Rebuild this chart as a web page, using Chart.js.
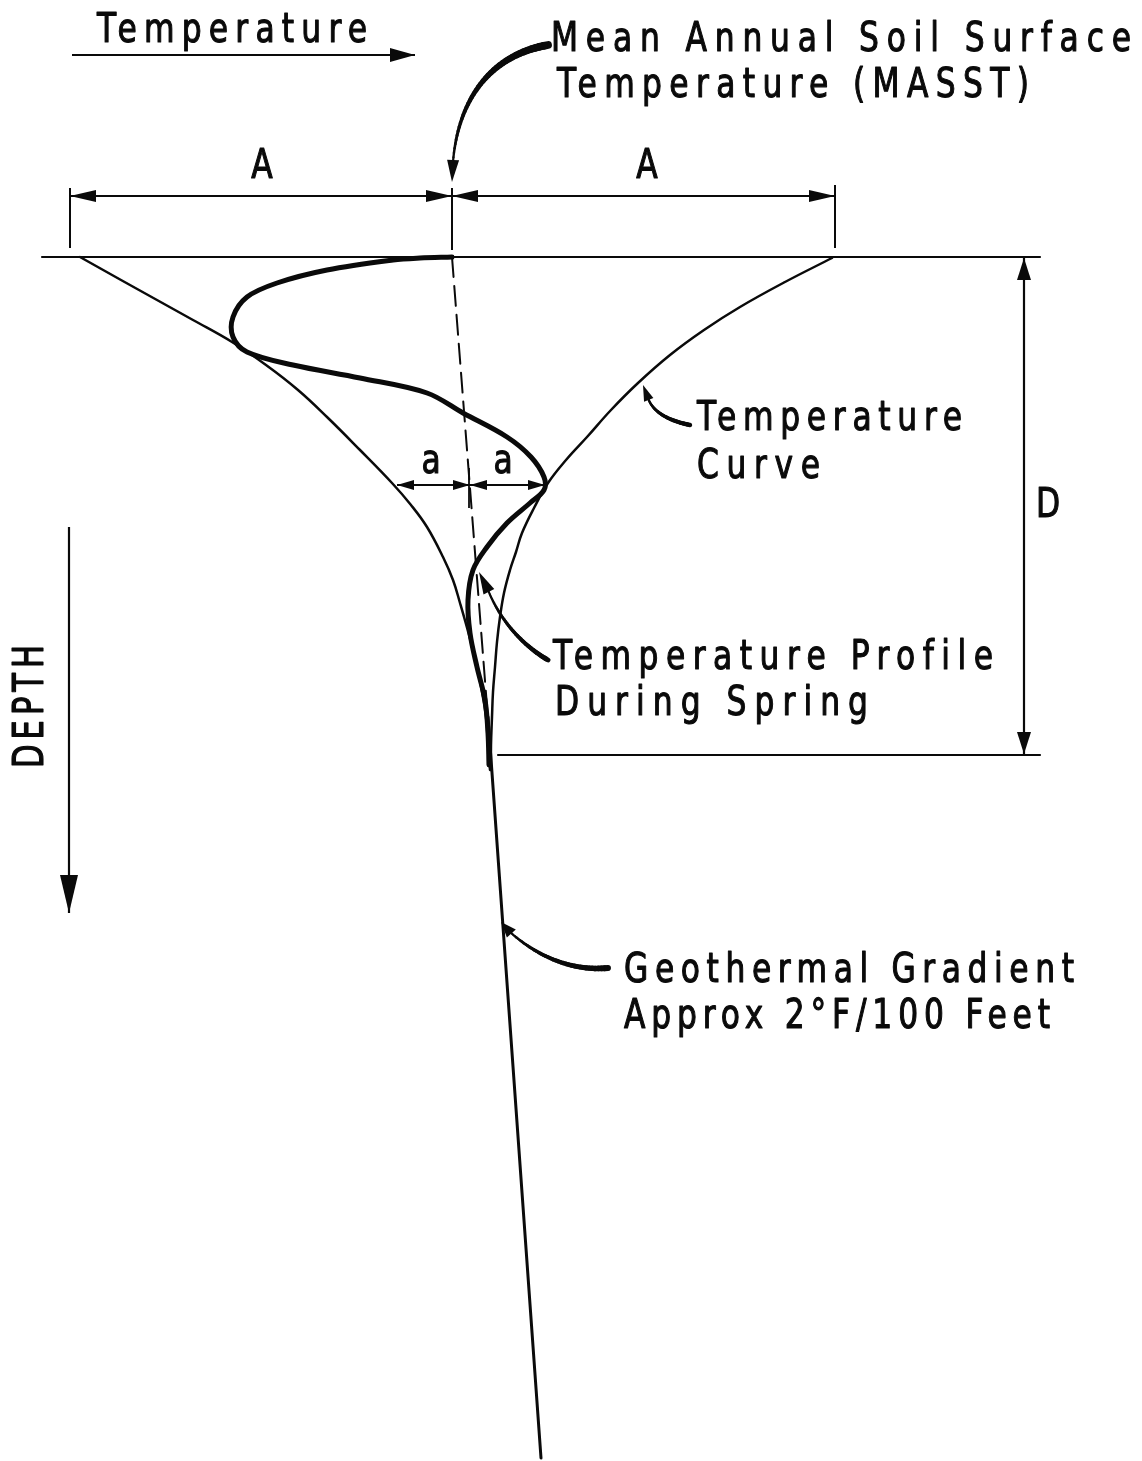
<!DOCTYPE html>
<html>
<head>
<meta charset="utf-8">
<title>Soil temperature profile</title>
<script src="https://cdn.jsdelivr.net/npm/chart.js@4.4.1/dist/chart.umd.min.js"></script>
<style>
  html, body { margin: 0; padding: 0; background: #fff; }
  canvas { display: block; }
</style>
</head>
<body>
<canvas id="profileChart" width="1142" height="1461"></canvas>
<script>
// temperature = offset from MASST, depth = distance below the soil surface (drawing units)
const surfaceTemp = [-410, 588];
const surfaceDepth = [0, 0];

const limitTemp = [46, 588];
const limitDepth = [498, 498];

const leftEnvTemp = [-372, -331, -295, -259, -220, -186, -154, -125, -92, -60, -41, -25, -9, 1, 8, 17, 25, 30, 34, 36, 38];
const leftEnvDepth = [0, 23, 43, 63, 85, 108, 133, 160, 193, 226, 248, 270, 300, 323, 346, 378, 410, 435, 460, 488, 513];

const rightEnvTemp = [380, 333, 288, 252, 218, 186, 159, 135, 114, 96, 82, 70, 64, 58, 52, 48, 45, 43, 41, 40, 39, 39];
const rightEnvDepth = [1, 25, 50, 73, 98, 126, 153, 180, 203, 226, 251, 276, 295, 313, 336, 360, 385, 410, 435, 460, 488, 513];

const springTemp = [0, -32, -59, -125, -175, -205, -219, -219, -205, -159, -92, -25, 11, 55, 79, 92, 92, 78, 55, 35, 21, 16, 18, 25, 33, 36, 37];
const springDepth = [0, 1, 3, 13, 26, 40, 60, 80, 95, 108, 121, 136, 156, 180, 200, 220, 233, 246, 266, 290, 313, 343, 376, 410, 443, 476, 508];

const masstTemp = [0, 38];
const masstDepth = [0, 488];

const geoTemp = [36, 89];
const geoDepth = [460, 1201];

const ink = '#0a0a0a';
const fontStack = '"Liberation Sans Narrow", "DejaVu Sans Condensed", "Liberation Sans", Arial, sans-serif';

function pts(xs, ys) {
  return xs.map((x, i) => ({ x: x, y: ys[i] }));
}

function line(label, data, width, tension, dash) {
  return {
    label: label,
    data: data,
    showLine: true,
    borderColor: ink,
    borderWidth: width,
    pointRadius: 0,
    fill: false,
    tension: tension || 0,
    borderDash: dash || [],
    borderCapStyle: 'round',
    borderJoinStyle: 'round'
  };
}

// straight rules: t1, d1, t2, d2, width
const rules = [
  [-380, -202, -37, -202, 2],
  [-382, -69, -382, -9, 2],
  [0, -69, 0, -7, 2],
  [383, -72, 383, -9, 2],
  [-382, -61, 383, -61, 2],
  [-55, 228, 93, 228, 1.8],
  [17, 211, 17, 251, 1.8],
  [572, 1, 572, 497, 2.2],
  [-383, 270, -383, 656, 2.2]
];

// arrow heads: tip t, tip d, direction, length, half width
const heads = [
  [-37, -202, 1, 0, 25, 7],
  [-382, -61, -1, 0, 26, 6],
  [0, -61, 1, 0, 26, 6],
  [0, -61, -1, 0, 26, 6],
  [383, -61, 1, 0, 26, 6],
  [-55, 228, -1, 0, 17, 5],
  [18, 228, 1, 0, 17, 5],
  [18, 228, -1, 0, 17, 5],
  [93, 228, 1, 0, 17, 5],
  [572, 1, 0, -1, 22, 7],
  [572, 497, 0, 1, 22, 7],
  [-383, 656, 0, 1, 38, 9]
];

// curved leaders: start, cp1, cp2, end, tip, start width, end width, head half width
const leaders = [
  [[96, -212], [38, -202], [6, -157], [1, -95], [0, -75], 8, 2.2, 6],
  [[238, 168], [213, 163], [200, 153], [196, 141], [191, 128], 4.5, 2, 5],
  [[96, 403], [70, 388], [48, 363], [36, 333], [27, 315], 5, 2, 6],
  [[156, 711], [113, 715], [78, 693], [58, 675], [49, 665], 6, 2, 6]
];

const notes = [
  { text: 'Temperature', t: -355, d: -215, size: 41, span: 270 },
  { text: 'Mean Annual Soil Surface', t: 99, d: -206, size: 41, span: 580 },
  { text: 'Temperature (MASST)', t: 105, d: -160, size: 41, span: 472 },
  { text: 'A', t: -190, d: -79, size: 41, center: true },
  { text: 'A', t: 195, d: -79, size: 41, center: true },
  { text: 'a', t: -21, d: 216, size: 41, center: true },
  { text: 'a', t: 51, d: 216, size: 41, center: true },
  { text: 'Temperature', t: 245, d: 173, size: 41, span: 265 },
  { text: 'Curve', t: 245, d: 221, size: 41, span: 123 },
  { text: 'D', t: 584, d: 260, size: 41 },
  { text: 'Temperature Profile', t: 101, d: 412, size: 41, span: 440 },
  { text: 'During Spring', t: 103, d: 458, size: 41, span: 313 },
  { text: 'Geothermal Gradient', t: 172, d: 725, size: 41, span: 450 },
  { text: 'Approx 2\u00b0F/100 Feet', t: 172, d: 771, size: 41, span: 426 },
  { text: 'DEPTH', t: -409, d: 511, size: 43, span: 123, rotate: true }
];

// the original lettering is a condensed face set with wide tracking
function spacedText(c, str, x, y, size, span, center) {
  c.font = size + 'px ' + fontStack;
  const hasLS = 'letterSpacing' in c;
  if (hasLS) c.letterSpacing = '0px';
  const w = c.measureText(str).width;
  let sx = 0.85;
  let gap = 0;
  if (span && str.length > 1) {
    gap = (span - w * sx) / (str.length - 1);
    if (gap < 5) {
      gap = 5;
      sx = (span - gap * (str.length - 1)) / w;
    }
  }
  if (hasLS) c.letterSpacing = (gap / sx) + 'px';
  c.textAlign = 'left';
  c.textBaseline = 'alphabetic';
  const left = center ? x - (w * sx) / 2 : x;
  c.save();
  c.translate(left, y);
  c.scale(sx, 1);
  c.lineWidth = 1.1;
  c.lineJoin = 'round';
  c.fillText(str, 0, 0);
  c.strokeText(str, 0, 0);
  c.restore();
  if (hasLS) c.letterSpacing = '0px';
}

function drawHead(c, tx, ty, dx, dy, len, hw) {
  const m = Math.hypot(dx, dy);
  const ux = dx / m, uy = dy / m;
  const bx = tx - ux * len, by = ty - uy * len;
  c.beginPath();
  c.moveTo(tx, ty);
  c.lineTo(bx - uy * hw, by + ux * hw);
  c.lineTo(bx + uy * hw, by - ux * hw);
  c.closePath();
  c.fill();
}

const paperPlugin = {
  id: 'paper',
  beforeDraw(chart) {
    const c = chart.ctx;
    c.save();
    c.fillStyle = '#fff';
    c.fillRect(0, 0, chart.width, chart.height);
    c.restore();
  }
};

const notesPlugin = {
  id: 'notes',
  afterDatasetsDraw(chart) {
    const c = chart.ctx;
    const xs = chart.scales.x, ys = chart.scales.y;
    const X = t => xs.getPixelForValue(t);
    const Y = d => ys.getPixelForValue(d);
    c.save();
    c.strokeStyle = ink;
    c.fillStyle = ink;

    rules.forEach(r => {
      c.lineWidth = r[4];
      c.beginPath();
      c.moveTo(X(r[0]), Y(r[1]));
      c.lineTo(X(r[2]), Y(r[3]));
      c.stroke();
    });

    heads.forEach(h => drawHead(c, X(h[0]), Y(h[1]), h[2], h[3], h[4], h[5]));

    // tapered curved leaders
    c.lineCap = 'round';
    leaders.forEach(l => {
      const p = l.slice(0, 4).map(q => [X(q[0]), Y(q[1])]);
      const n = 40;
      let prev = p[0];
      for (let i = 1; i <= n; i++) {
        const s = i / n, r = 1 - s;
        const pt = [
          r * r * r * p[0][0] + 3 * r * r * s * p[1][0] + 3 * r * s * s * p[2][0] + s * s * s * p[3][0],
          r * r * r * p[0][1] + 3 * r * r * s * p[1][1] + 3 * r * s * s * p[2][1] + s * s * s * p[3][1]
        ];
        c.lineWidth = l[5] + (l[6] - l[5]) * s;
        c.beginPath();
        c.moveTo(prev[0], prev[1]);
        c.lineTo(pt[0], pt[1]);
        c.stroke();
        prev = pt;
      }
      const tip = [X(l[4][0]), Y(l[4][1])];
      const dx = tip[0] - p[3][0], dy = tip[1] - p[3][1];
      drawHead(c, tip[0], tip[1], dx, dy, Math.hypot(dx, dy) + 2, l[7]);
    });

    c.lineCap = 'butt';
    notes.forEach(n => {
      if (n.rotate) {
        c.save();
        c.translate(X(n.t), Y(n.d));
        c.rotate(-Math.PI / 2);
        spacedText(c, n.text, 0, 0, n.size, n.span, false);
        c.restore();
      } else {
        spacedText(c, n.text, X(n.t), Y(n.d), n.size, n.span, n.center);
      }
    });
    c.restore();
  }
};

const ctx = document.getElementById('profileChart').getContext('2d');

new Chart(ctx, {
  type: 'scatter',
  data: {
    datasets: [
      line('Ground surface', pts(surfaceTemp, surfaceDepth), 2.2),
      line('Depth D', pts(limitTemp, limitDepth), 2.2),
      line('Temperature curve (cold side)', pts(leftEnvTemp, leftEnvDepth), 2.5, 0.4),
      line('Temperature curve (warm side)', pts(rightEnvTemp, rightEnvDepth), 2.5, 0.4),
      line('MASST', pts(masstTemp, masstDepth), 2, 0, [20, 9]),
      line('Geothermal gradient', pts(geoTemp, geoDepth), 3),
      line('Temperature profile during spring', pts(springTemp, springDepth), 5, 0.35)
    ]
  },
  options: {
    responsive: false,
    animation: false,
    events: [],
    layout: { padding: 0 },
    plugins: {
      legend: { display: false },
      tooltip: { enabled: false }
    },
    scales: {
      x: { type: 'linear', min: -452, max: 690, display: false },
      y: { type: 'linear', min: -257, max: 1204, reverse: true, display: false }
    }
  },
  plugins: [paperPlugin, notesPlugin]
});
</script>
</body>
</html>
